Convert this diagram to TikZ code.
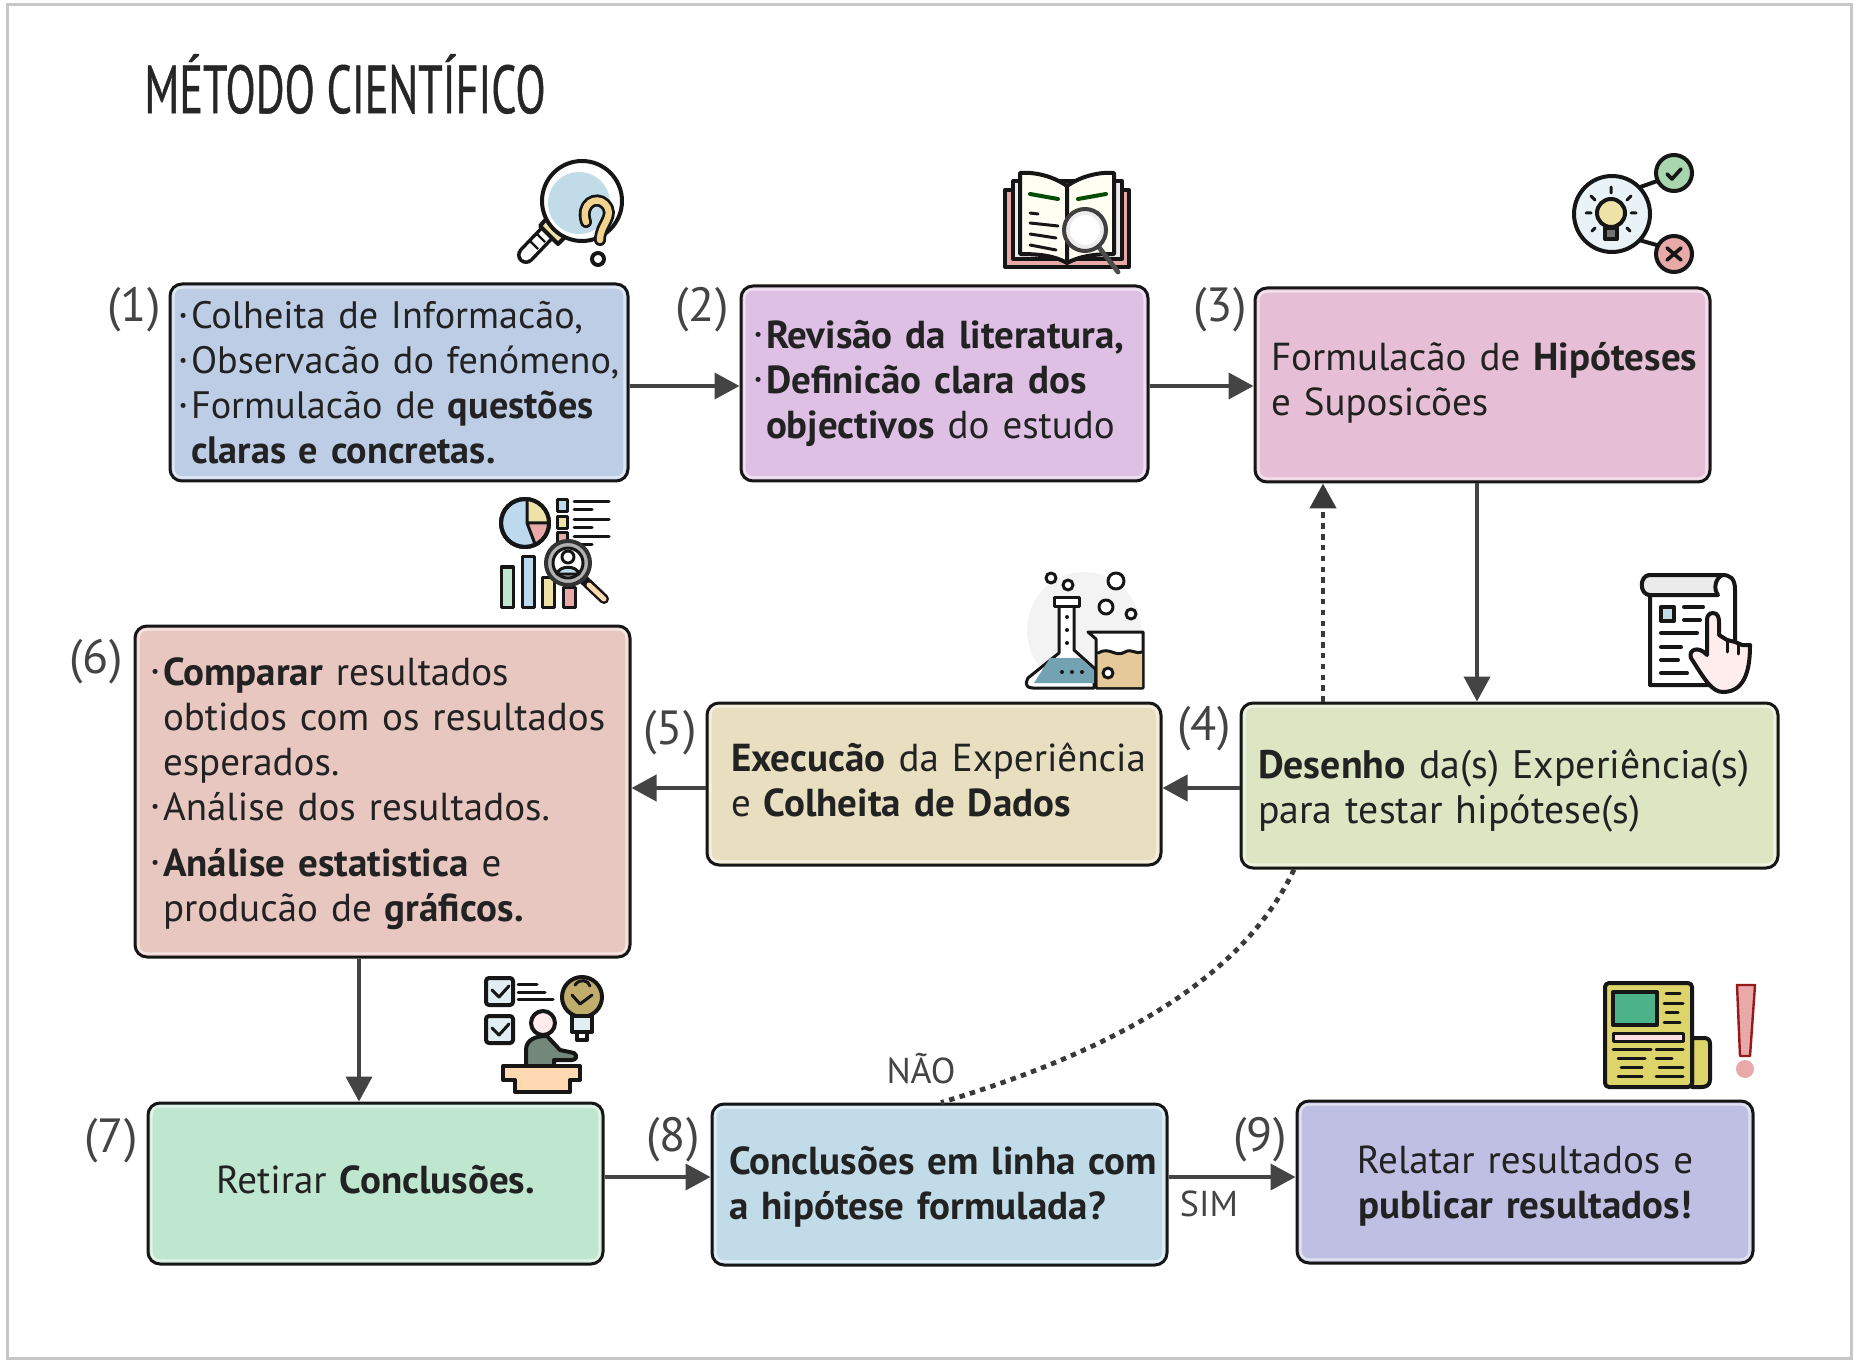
\documentclass[tikz,border=0pt]{standalone}
\usepackage{fontspec}
\usetikzlibrary{arrows.meta,calc}
\setmainfont{PT Sans}
\newfontfamily\titlefont[FakeStretch=0.65,FakeBold=0.6]{PT Sans}
\newfontfamily\numfont{PT Sans}
\newdimen\px \px=0.5pt
\definecolor{txt}{HTML}{222222}
\definecolor{B1}{HTML}{BDCDE6}\definecolor{B2}{HTML}{DDC0E4}\definecolor{B3}{HTML}{E6BFD6}
\definecolor{B4}{HTML}{DCE6C3}\definecolor{B5}{HTML}{E8DFC0}\definecolor{B6}{HTML}{E7C7C0}
\definecolor{B7}{HTML}{BFE6CE}\definecolor{B8}{HTML}{C1DCE8}\definecolor{B9}{HTML}{BFBFE3}
\definecolor{ink}{HTML}{161616}\definecolor{arr}{HTML}{444444}
\definecolor{icblue}{HTML}{BCD9EE}\definecolor{icyel}{HTML}{EEE2A6}\definecolor{icred}{HTML}{E8A9A9}
\definecolor{icgrn}{HTML}{A9D6AE}\definecolor{icsand}{HTML}{E5C998}
\newcommand\bul{\makebox[12\px][l]{\raisebox{.2em}{\fontsize{9}{9}\selectfont\textbullet}}}
\newcommand\ind{\hspace*{12\px}}
\newcommand\shft[2]{\raisebox{-#1\px}[\dimexpr\height+#1\px\relax][\dimexpr\depth+#1\px\relax]{#2}}
\newcommand\lns[3]{\hspace*{#1\px}\rlap{\shft{#2}{\begin{tabular}{@{}l@{}}#3\end{tabular}}}}
\newcommand\bevel[1]{\draw[white,opacity=.55,line width=1.2pt,rounded corners=4pt] ([shift={(5,5)}]#1.north west) rectangle ([shift={(-5,-5)}]#1.south east);}
\tikzset{
 x=0.5pt,y=-0.5pt,
 box/.style n args={3}{draw=ink,line width=1.5pt,rounded corners=6pt,inner sep=0pt,fill=#1,text width=#2*0.5pt,minimum height=#3*0.5pt,text=txt,font=\fontsize{19.5}{22.5}\selectfont,align=left},
 cbox/.style n args={3}{box={#1}{#2}{#3},align=center},
 numlab/.style={inner sep=0pt,text=arr,font=\numfont\fontsize{24}{26}\selectfont},
 lab/.style={inner sep=0pt,text=arr,font=\fontsize{18}{20}\selectfont},
 conn/.style={draw=arr,line width=2pt,-{Triangle[length=12.5pt,width=13pt]}},
 dots/.style={draw=ink!85,line width=2.4pt,dash pattern=on 2.7pt off 2.7pt},
 ic/.style={draw=ink,line width=2pt,line join=round,line cap=round},
 thin ic/.style={draw=ink,line width=1.5pt,line join=round,line cap=round},
}
\begin{document}
\begin{tikzpicture}
\useasboundingbox (0,0) rectangle (1857,1363);
\fill[white] (0,0) rectangle (1857,1363);
\draw[draw=black!22,line width=1.5pt] (7,5) rectangle (1851,1358);
\node[inner sep=0pt,anchor=west,text=black!85,font=\titlefont\fontsize{34}{36}\selectfont] (title) at (144,84) {MÉTODO CIENTÍFICO};

% boxes
\node[box={B1}{458}{197},font=\fontsize{19.1}{22.5}\selectfont] (b1) at (399,382.5) {\lns{9}{5}{\bul Colheita de Informacão,\\\bul Observacão do fenómeno,\\\bul Formulacão de \textbf{questões}\\\ind\textbf{claras e concretas.}}};
\node[box={B2}{407}{195}] (b2) at (944.5,383.5) {\lns{13}{1}{\bul\textbf{Revisão da literatura,}\\\bul\textbf{Definicão clara dos}\\\ind\textbf{objectivos} do estudo}};
\node[box={B3}{455}{194}] (b3) at (1482.5,385) {\lns{16}{-1}{Formulacão de \textbf{Hipóteses}\\e Suposicões}};
\node[box={B4}{537}{165},font=\fontsize{19.9}{22.5}\selectfont] (b4) at (1509.5,785.5) {\lns{17}{6}{\textbf{Desenho} da(s) Experiência(s)\\para testar hipótese(s)}};
\node[box={B5}{454}{162}] (b5) at (934,784) {\lns{24}{1}{\textbf{Execucão} da Experiência\\e \textbf{Colheita de Dados}}};
\node[box={B6}{495}{331}] (b6) at (382.5,791.5) {\lns{16}{3}{\bul\textbf{Comparar} resultados\\\ind obtidos com os resultados\\\ind esperados.\\\bul Análise dos resultados.\\[5.5pt]\bul\textbf{Análise estatistica} e\\\ind producão de \textbf{gráficos.}}};
\node[cbox={B7}{455}{161}] (b7) at (375.5,1183.5) {\shft{-3}{Retirar \textbf{Conclusões.}}};
\node[box={B8}{455}{161}] (b8) at (939.5,1184.5) {\lns{17}{3}{\textbf{Conclusões em linha com}\\\textbf{a hipótese formulada?}}};
\node[cbox={B9}{456}{162}] (b9) at (1525,1182) {\shft{5}{\begin{tabular}{@{}c@{}}Relatar resultados e\\\textbf{publicar resultados!}\end{tabular}}};
\foreach \n in {b1,b2,b3,b4,b5,b6,b7,b8,b9}{\bevel{\n}}

% number labels
\node[numlab] (n1) at (134,310) {(1)};
\node[numlab] (n2) at (702,310) {(2)};
\node[numlab] (n3) at (1220,310) {(3)};
\node[numlab] (n4) at (1204,729) {(4)};
\node[numlab] (n5) at (670,733) {(5)};
\node[numlab] (n6) at (96,662) {(6)};
\node[numlab] (n7) at (111,1141) {(7)};
\node[numlab] (n8) at (673,1140) {(8)};
\node[numlab] (n9) at (1260,1140) {(9)};
\node[lab] (tno) at (921,1069) {NÃO};
\node[lab] (tsim) at (1209,1204) {SIM};

% connector guides
\coordinate (g34) at (1477,600);
\coordinate (g43) at (1323,600);
\coordinate (g45) at (1200,788);
\coordinate (g67) at (359,1040);
\coordinate (g78) at (660,1177);
\coordinate (g12) at (680,386);
\coordinate (g48) at (1294,900);
\coordinate (g84) at (941,1090);

\draw[conn] (b1.east |- g12) -- (b2.west |- g12);
\draw[conn] (b2.east |- g12) -- (b3.west |- g12);
\draw[conn] (b3.south -| g34) -- (b4.north -| g34);
\draw[conn] (b4.west |- g45) -- (b5.east |- g45);
\draw[conn] (b5.west |- g45) -- (b6.east |- g45);
\draw[conn] (b6.south -| g67) -- (b7.north -| g67);
\draw[conn] (b7.east |- g78) -- (b8.west |- g78);
\draw[conn] (b8.east |- g78) -- (b9.west |- g78);
\draw[dots,-{Triangle[length=12.5pt,width=13pt]}] (b4.north -| g43) -- (b3.south -| g43);
\draw[dots] (b4.south -| g48) .. controls (1240,985) and (1100,1055) .. (b8.north -| g84);

% ---- icon 1: magnifier with question mark
\draw[ic,line width=9pt] (526,255) -- (548,232);
\draw[white,line width=5.5pt,line cap=round] (526,255) -- (548,232);
\draw[ink,line width=1.2pt] (530,241)--(538,249) (537,234)--(545,242);
\draw[ic,fill=icyel] (548,217) -- (566,236) -- (558,244) -- (540,226) -- cycle;
\draw[ic,fill=white] (582,201) circle[radius=40];
\fill[B8] (579,203) circle[radius=31];
\draw[ink,line width=6pt,line cap=round] (586,222) .. controls (580,204) and (596,195) .. (605,204) .. controls (616,216) and (600,224) .. (600,240);
\draw[icyel!85!orange,line width=3.2pt,line cap=round] (586,222) .. controls (580,204) and (596,195) .. (605,204) .. controls (616,216) and (600,224) .. (600,240);
\draw[ic,fill=white] (598,259) circle[radius=6];

% ---- icon 2: book
\draw[ic,fill=icred] (1005,190) rectangle (1129,267);
\draw[ic,fill=white!92!black] (1013,181) rectangle (1122,259);
\draw[ic,fill=white!95!yellow] (1067,186) .. controls (1050,174) and (1030,172) .. (1020,173) -- (1020,254) .. controls (1040,254) and (1055,256) .. (1067,263) -- cycle;
\draw[ic,fill=white!95!yellow] (1067,186) .. controls (1084,174) and (1104,172) .. (1114,173) -- (1114,254) .. controls (1095,254) and (1080,256) .. (1067,263) -- cycle;
\draw[thin ic,draw=black!70!green,line width=2pt] (1030,194) -- (1058,199) (1078,199) -- (1106,194);
\draw[thin ic] (1030,213)--(1038,214) (1030,223)--(1058,226) (1030,234)--(1056,238) (1030,245)--(1056,250);
\draw[ic,draw=black!70,line width=2.4pt] (1098,246)--(1118,272);
\draw[ic,draw=black!75,fill=white!85!gray] (1085,230) circle[radius=21];
\fill[white] (1085,230) circle[radius=15];

% ---- icon 3: hypothesis
\draw[ic] (1632,190)--(1660,180) (1632,238)--(1660,246);
\draw[ic,fill=B8!35!white] (1612,214) circle[radius=38];
\draw[ic,fill=icgrn] (1674,173) circle[radius=18];
\draw[ic,fill=icred] (1674,254) circle[radius=18];
\draw[ic,line width=1.8pt] (1667,174)--(1672,179)--(1681,169);
\draw[ic,line width=1.8pt] (1667,248)--(1681,260) (1681,248)--(1667,260);
\draw[ic,fill=icyel] (1611,213) circle[radius=14];
\draw[ic,fill=black!55] (1605,228) rectangle (1617,239);
\draw[thin ic] (1611,187)--(1611,193) (1591,196)--(1595,200) (1631,196)--(1627,200) (1586,213)--(1591,213) (1636,213)--(1631,213) (1595,228)--(1592,231) (1627,228)--(1630,231);

% ---- icon 4: analysis
\draw[ic,fill=icblue] (525,523) circle[radius=24];
\begin{scope}
\clip (525,523) circle[radius=24];
\fill[icyel] (527,495) -- (552,495) -- (552,523) -- (527,523) -- cycle;
\fill[icred] (527,523) -- (552,523) -- (552,550) -- (535,550) -- cycle;
\end{scope}
\draw[thin ic] (527,500)--(527,523)--(548,523) (527,523)--(535,544);
\draw[ic] (525,523) circle[radius=24];
\foreach \yy/\cc in {506/icblue,523/icyel,539/icred}{\draw[thin ic,fill=\cc] (557,\yy-6) rectangle (567,\yy+6);}
\draw[thin ic] (574,502)--(609,502) (574,510)--(592,510) (574,520)--(609,520) (574,528)--(592,528) (574,537)--(609,537) (574,545)--(592,545);
\draw[thin ic,fill=B7] (501,567) rectangle (513,607);
\draw[thin ic,fill=icblue] (522,557) rectangle (534,607);
\draw[thin ic,fill=icyel] (542,577) rectangle (554,607);
\draw[thin ic,fill=icred] (563,587) rectangle (575,607);
\draw[ink,line width=5pt,line cap=round] (584,580)--(604,599);
\draw[orange!30!white,line width=2.5pt,line cap=round] (589,585)--(604,599);
\draw[ic,draw=black!80,fill=black!30] (568,563) circle[radius=22];
\draw[thin ic,fill=white] (568,563) circle[radius=15];
\draw[thin ic] (568,557) circle[radius=6];
\draw[thin ic,fill=icblue] (557,574) .. controls (559,565) and (577,565) .. (579,574) -- cycle;

% ---- icon 5: flask
\fill[B8!25!black!6!white] (1084,630) ellipse [x radius=57,y radius=58];
\draw[thin ic,fill=white] (1059,606) -- (1059,653) -- (1028,678) .. controls (1024,686) and (1028,688) .. (1033,688) -- (1094,688) -- (1094,668) -- (1074,650) -- (1074,606) -- cycle;
\fill[blue!25!cyan!45!black!55!white] (1050,658) -- (1080,658) -- (1094,670) -- (1094,683) -- (1034,683) -- cycle;
\draw[thin ic,fill=white] (1054,597) rectangle (1079,606);
\foreach \pp in {(1067,617),(1067,630),(1067,643),(1062,672),(1072,672),(1082,672)}{\fill[ink] \pp circle[radius=2];}
\draw[thin ic,fill=white] (1088,632) -- (1143,632) -- (1143,688) -- (1096,688) -- (1096,639) -- cycle;
\draw[draw=none,fill=icsand] (1098,653) .. controls (1110,646) and (1115,658) .. (1125,652) .. controls (1132,648) and (1136,655) .. (1142,652) -- (1142,687) -- (1098,687) -- cycle;
\draw[thin ic] (1098,653) .. controls (1110,646) and (1115,658) .. (1125,652) .. controls (1132,648) and (1136,655) .. (1142,652);
\draw[thin ic,fill=white] (1108,673) circle[radius=5];
\foreach \xx/\yy/\rr in {1051/578/5,1068/585/5,1116/581/8,1106/607/7,1131/614/5}{\draw[thin ic,fill=white] (\xx,\yy) circle[radius=\rr];}

% ---- icon 6: document and hand
\draw[ic,fill=white] (1650,595) -- (1650,685) -- (1720,685) -- (1735,670) -- (1735,590) .. controls (1735,578) and (1730,575) .. (1722,575) -- (1650,575) .. controls (1640,575) and (1640,595) .. (1650,595) -- cycle;
\draw[ic,fill=black!8] (1650,575) .. controls (1639,575) and (1639,595) .. (1650,595) -- (1718,595) .. controls (1714,590) and (1714,580) .. (1722,575) -- cycle;
\draw[ic,fill=B8] (1661,607) rectangle (1674,621);
\draw[ic] (1684,607)--(1703,607) (1684,620)--(1700,620) (1661,633)--(1697,633) (1661,647)--(1681,647) (1661,660)--(1678,660) (1661,673)--(1687,673);
\draw[ic,fill=red!7!white] (1713,613) .. controls (1718,613) and (1719,618) .. (1719,622) -- (1719,635) -- (1727,640) -- (1735,642) -- (1742,645) -- (1750,645) .. controls (1750,665) and (1747,692) .. (1723,692) .. controls (1712,692) and (1705,680) .. (1691,658) .. controls (1688,650) and (1698,645) .. (1707,655) -- (1707,620) .. controls (1707,616) and (1709,613) .. (1713,613) -- cycle;
\draw[ic,line width=1.5pt] (1727,640)--(1727,652) (1738,643)--(1738,654);

% ---- icon 7: presenter
\foreach \yy in {978,1016}{
 \draw[ic,fill=B8!50!white,rounded corners=1.5pt] (486,\yy) rectangle (513,\yy+27);
 \draw[thin ic] (492,\yy+12)--(499,\yy+19)--(509,\yy+8);
}
\draw[thin ic] (518,984)--(537,984) (518,992)--(545,992) (518,999)--(553,999);
\draw[ic,fill=yellow!60!orange!60!black!70!white] (582,997) circle[radius=20];
\draw[ic,fill=B8!50!white] (572,1016) rectangle (592,1032);
\draw[ic,fill=white] (577,1032) rectangle (587,1040);
\draw[thin ic] (572,995)--(580,1004)--(592,995) (575,985) .. controls (580,978) and (588,980) .. (590,986);
\draw[ic,fill=blue!25!green!20!black!55!white] (526,1067) -- (526,1050) .. controls (526,1040) and (535,1036) .. (547,1036) -- (560,1050) -- (574,1053) .. controls (578,1056) and (576,1060) .. (572,1060) -- (554,1060) -- (554,1067) -- cycle;
\draw[ic,fill=red!8!white] (543,1023) circle[radius=12];
\draw[ic,fill=orange!30!white] (503,1066) -- (580,1066) -- (580,1080) -- (570,1080) -- (570,1092) -- (515,1092) -- (515,1080) -- (503,1080) -- cycle;

% ---- icon 8: newspaper
\definecolor{npy}{HTML}{DDD46A}
\draw[ic,fill=npy] (1692,1038) -- (1704,1038) .. controls (1708,1038) and (1710,1040) .. (1710,1044) -- (1710,1080) .. controls (1710,1085) and (1706,1087) .. (1702,1087) -- (1692,1087) -- cycle;
\draw[ic,fill=npy,rounded corners=2pt] (1605,983) rectangle (1692,1087);
\draw[ic,fill={rgb,255:red,75;green,178;blue,138}] (1613,992) rectangle (1657,1025);
\draw[thin ic] (1666,993)--(1680,993) (1664,1003)--(1683,1003) (1666,1012)--(1678,1012) (1664,1022)--(1680,1022);
\draw[thin ic,fill=red!12!white] (1613,1033) rectangle (1683,1041);
\draw[thin ic] (1613,1049)--(1651,1049) (1656,1049)--(1683,1049) (1618,1058)--(1645,1058) (1656,1058)--(1672,1058) (1621,1067)--(1642,1067) (1659,1067)--(1683,1067) (1618,1076)--(1642,1076) (1656,1076)--(1683,1076);
\draw[draw=red!55!black!90,line width=1.2pt,fill=icred,line join=round] (1737,985) -- (1755,985) -- (1750,1056) -- (1740,1056) -- cycle;
\fill[icred] (1745,1069) circle[radius=9];
\end{tikzpicture}
\end{document}
